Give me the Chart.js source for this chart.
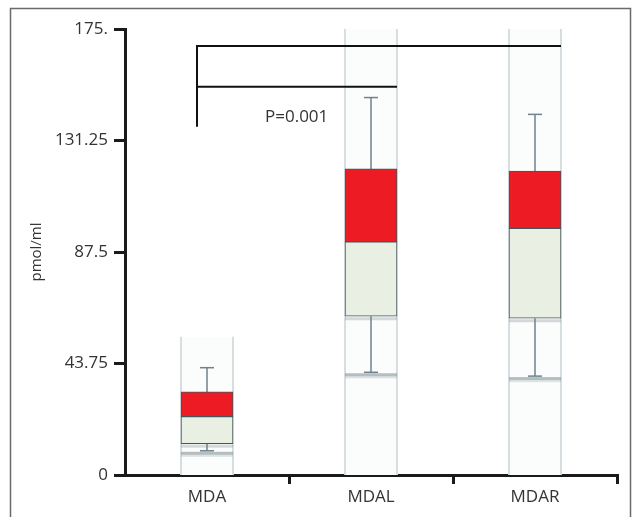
<!DOCTYPE html>
<html><head><meta charset="utf-8">
<script src="https://cdn.jsdelivr.net/npm/chart.js@4/dist/chart.umd.min.js"></script>
<style>html,body{margin:0;padding:0;background:#fff}#wrap{width:634px;height:517px;position:relative}</style>
</head><body><div id="wrap"><canvas id="c"></canvas></div>
<script>
const categories = ["MDA", "MDAL", "MDAR"];
const whiskerLow = [9.5, 40.3, 38.8];
const q1 = [12.3, 62.3, 61.5];
const median = [22.9, 91.5, 96.8];
const q3 = [32.6, 120.1, 119.3];
const whiskerHigh = [42.1, 148.1, 141.5];
const bandTop = [54.2, 175, 175];
const yTickLabels = ["0", "43.75", "87.5", "131.25", "175."];
const bracketEnds = [2, 1];
const bracketLevels = [168.3, 152.3];
const bracketStemBottom = 136.6;
const pLabel = "P=0.001";
const pLabelLevel = 140.5;

const BOX_W = 52;
const FONT = "'Open Sans', 'DejaVu Sans', sans-serif";

function seg(ctx, x1, y1, x2, y2) { ctx.beginPath(); ctx.moveTo(x1, y1); ctx.lineTo(x2, y2); ctx.stroke(); }

const extras = {
  id: 'extras',
  beforeDatasetsDraw(chart) {
    const { ctx, scales: { x, y } } = chart;
    ctx.save();
    categories.forEach((c, i) => {
      const cx = x.getPixelForValue(i);
      const l = cx - BOX_W / 2, r = cx + BOX_W / 2;
      const top = y.getPixelForValue(bandTop[i]), bot = y.getPixelForValue(0);
      ctx.fillStyle = 'rgba(251,252,252,1)';
      ctx.fillRect(l, top, BOX_W, bot - top);
      ctx.strokeStyle = 'rgba(212,220,224,0.95)';
      ctx.lineWidth = 2;
      seg(ctx, l, top, l, bot); seg(ctx, r, top, r, bot);
      // shadows
      const q1p = y.getPixelForValue(q1[i]);
      const lowp = y.getPixelForValue(whiskerLow[i]);
      ctx.fillStyle = 'rgba(120,135,142,0.3)';
      ctx.fillRect(l, q1p + 1, BOX_W, 3);
      ctx.fillStyle = 'rgba(110,125,132,0.5)';
      ctx.fillRect(l, lowp + 1, BOX_W, 3);
      ctx.fillStyle = 'rgba(110,125,132,0.2)';
      ctx.fillRect(l, lowp + 4, BOX_W, 2);
      // whiskers
      const q3p = y.getPixelForValue(q3[i]);
      const hip = y.getPixelForValue(whiskerHigh[i]);
      ctx.strokeStyle = '#6f828b';
      ctx.lineWidth = 1.5;
      seg(ctx, cx, q3p, cx, hip);
      seg(ctx, cx - 7, hip, cx + 7, hip);
      seg(ctx, cx, q1p, cx, lowp);
      seg(ctx, cx - 7, lowp, cx + 7, lowp);
    });
    ctx.restore();
  },
  afterDraw(chart) {
    const { ctx, scales: { x, y } } = chart;
    ctx.save();
    const sx = x.getPixelForValue(0) - 10;
    ctx.strokeStyle = '#111';
    ctx.lineWidth = 2;
    const topLevel = y.getPixelForValue(bracketLevels[0]);
    seg(ctx, sx, topLevel, sx, y.getPixelForValue(bracketStemBottom));
    bracketEnds.forEach((e, k) => {
      const yy = y.getPixelForValue(bracketLevels[k]);
      seg(ctx, sx - 1, yy, x.getPixelForValue(e) + BOX_W / 2, yy);
    });
    ctx.fillStyle = '#333';
    ctx.font = "17px " + FONT;
    ctx.textBaseline = 'middle';
    ctx.textAlign = 'left';
    ctx.fillText(pLabel, x.getPixelForValue(0) + 58, y.getPixelForValue(pLabelLevel));
    ctx.strokeStyle = '#6a6a6a';
    ctx.lineWidth = 1.5;
    ctx.strokeRect(10.5, 8.5, 620, 540);
    ctx.restore();
  }
};

new Chart(document.getElementById('c'), {
  type: 'bar',
  data: {
    labels: categories,
    datasets: [
      { data: categories.map((c, i) => [q1[i], median[i]]), backgroundColor: '#e9efe3', borderColor: '#44555b', borderWidth: 1, borderSkipped: false, barThickness: BOX_W, grouped: false },
      { data: categories.map((c, i) => [median[i], q3[i]]), backgroundColor: '#ed1c24', borderColor: '#44555b', borderWidth: 1, borderSkipped: false, barThickness: BOX_W, grouped: false }
    ]
  },
  options: {
    responsive: true,
    maintainAspectRatio: false,
    animation: false,
    layout: { padding: { left: 0, right: 17, top: 29, bottom: 0 } },
    plugins: { legend: { display: false }, tooltip: { enabled: false } },
    scales: {
      x: {
        offset: true,
        grid: { offset: true, drawOnChartArea: false, drawTicks: true, tickLength: 9, lineWidth: 3,
                color: (ctx) => (ctx.index === 0 || ctx.index >= categories.length) ? 'rgba(0,0,0,0)' : '#1a1a1a' },
        border: { display: true, color: '#1a1a1a', width: 3 },
        ticks: { color: '#333', font: { family: FONT, size: 17 }, padding: 3 },
        afterFit: (s) => { s.height = 42; }
      },
      y: {
        min: 0, max: 175,
        ticks: { stepSize: 43.75, color: '#333', font: { family: FONT, size: 17 }, padding: 6,
                 callback: (v, i) => yTickLabels[i] },
        grid: { drawOnChartArea: false, drawTicks: true, tickLength: 11, lineWidth: 3, color: '#1a1a1a' },
        border: { display: true, color: '#1a1a1a', width: 3 },
        title: { display: true, text: 'pmol/ml', color: '#333', font: { family: FONT, size: 15 }, padding: { top: 28, bottom: 0 } },
        afterFit: (s) => { s.width = 125; }
      }
    }
  },
  plugins: [extras]
});
</script>
</body></html>
